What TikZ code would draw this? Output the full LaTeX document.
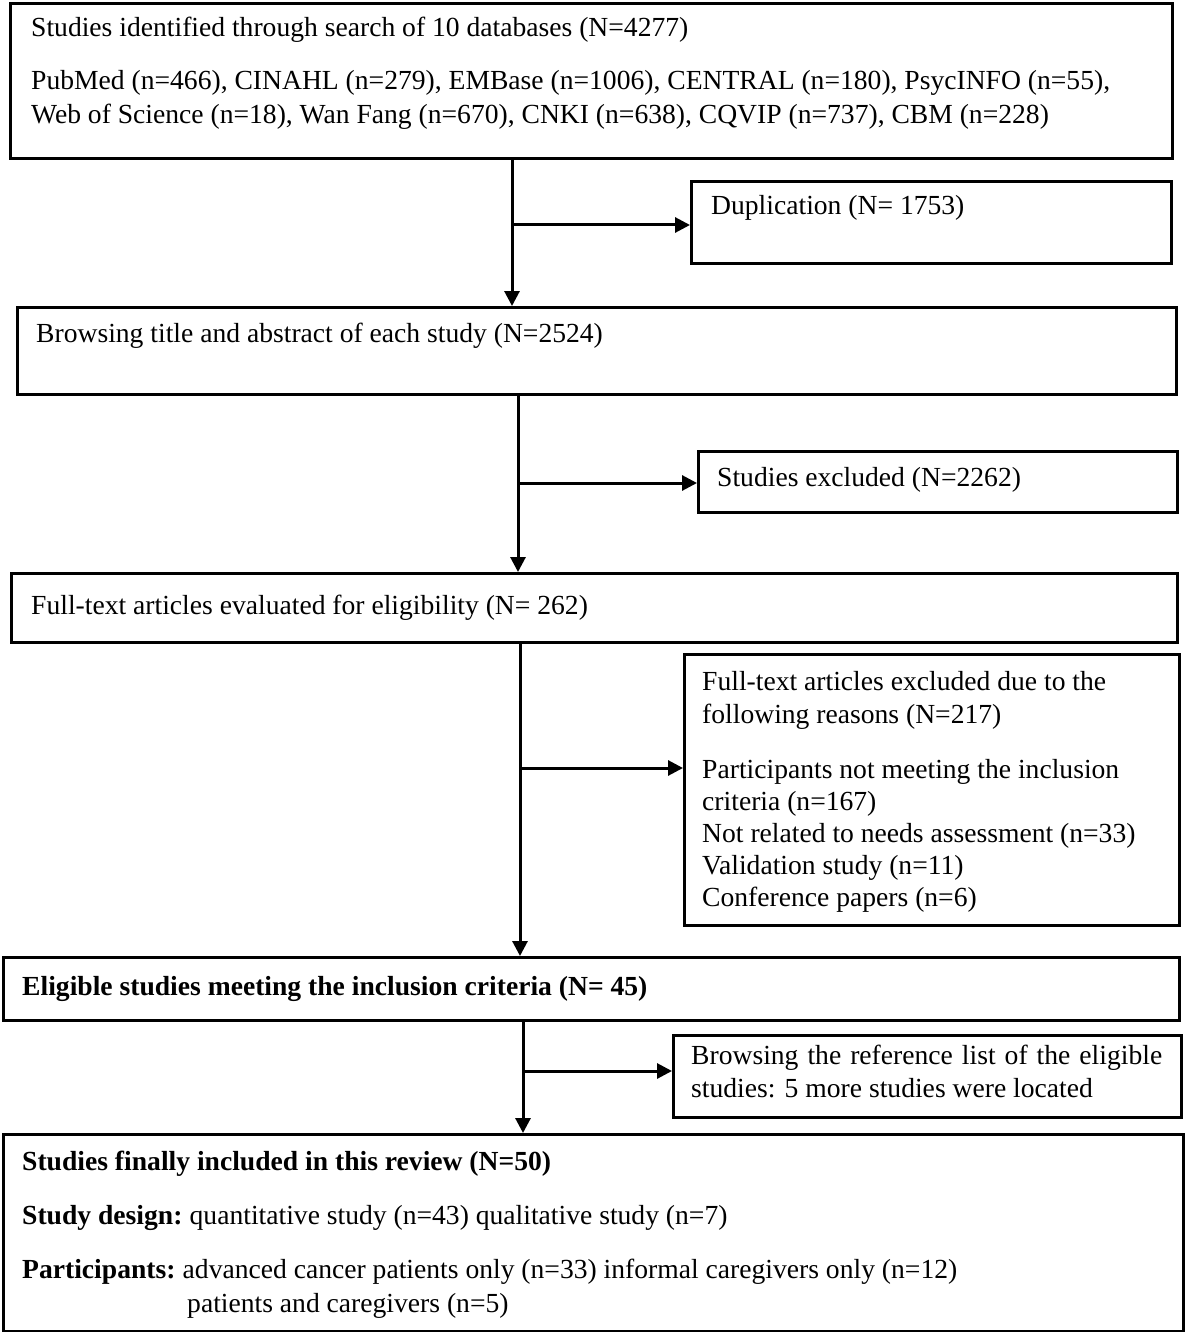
\documentclass[tikz,border=0pt]{standalone}
\usepackage{fontspec}
\setmainfont{Liberation Serif}
\usetikzlibrary{arrows.meta}
\begin{document}
\begin{tikzpicture}[x=1pt,y=-1pt,
 box/.style={draw, line width=3.2pt, inner sep=0pt, anchor=north west},
 txt/.style={anchor=base west, inner sep=0pt, font=\fontsize{27.6}{32}\selectfont},
 arr/.style={line width=3pt, -{Triangle[length=15pt,width=15pt]}}]
\useasboundingbox (0,0) rectangle (1184,1332);
% boxes
\node[box, minimum width=1162pt, minimum height=155pt] (b1) at (9,2) {};
\node[box, minimum width=480pt, minimum height=82pt] (dup) at (690,180) {};
\node[box, minimum width=1159pt, minimum height=87pt] (b3) at (16,306) {};
\node[box, minimum width=479pt, minimum height=61pt] (exc) at (697,450) {};
\node[box, minimum width=1166pt, minimum height=69pt] (b5) at (10,572) {};
\node[box, minimum width=495pt, minimum height=271pt] (b6) at (683,653) {};
\node[box, minimum width=1176pt, minimum height=63pt] (b7) at (2,956) {};
\node[box, minimum width=508pt, minimum height=82pt] (b8) at (672,1034) {};
\node[box, minimum width=1180pt, minimum height=197pt] (b9) at (2,1133) {};
% texts
\node[txt] (t1a) at (31,37) {Studies identified through search of 10 databases (N=4277)};
\node[txt] (t1b) at (31,90) {PubMed (n=466), CINAHL (n=279), EMBase (n=1006), CENTRAL (n=180), PsycINFO (n=55),};
\node[txt] (t1c) at (31,124) {Web of Science (n=18), Wan Fang (n=670), CNKI (n=638), CQVIP (n=737), CBM (n=228)};
\node[txt] (t2) at (711,215) {Duplication (N= 1753)};
\node[txt] (t3) at (36,342) {Browsing title and abstract of each study (N=2524)};
\node[txt] (t4) at (717,486) {Studies excluded (N=2262)};
\node[txt] (t5) at (31,614) {Full-text articles evaluated for eligibility (N= 262)};
\node[txt] (t6a) at (702,690) {Full-text articles excluded due to the};
\node[txt] (t6b) at (702,723) {following reasons (N=217)};
\node[txt] (t6c) at (702,778) {Participants not meeting the inclusion};
\node[txt] (t6d) at (702,810) {criteria (n=167)};
\node[txt] (t6e) at (702,842) {Not related to needs assessment (n=33)};
\node[txt] (t6f) at (702,874) {Validation study (n=11)};
\node[txt] (t6g) at (702,906) {Conference papers (n=6)};
\node[txt] (t7) at (22,995) {\bfseries Eligible studies meeting the inclusion criteria (N= 45)};
\node[txt] (t8a) at (691,1064) {\makebox[471pt][s]{Browsing the reference list of the eligible}};
\node[txt] (t8b) at (691,1097) {studies: 5 more studies were located};
\node[txt] (t9a) at (22,1170) {\bfseries Studies finally included in this review (N=50)};
\node[txt] (t9b) at (22,1224) {\textbf{Study design:}\hspace{-2pt} quantitative study (n=43) qualitative study (n=7)};
\node[txt] (t9c) at (22,1278) {\textbf{Participants:}\hspace{-2pt} advanced cancer patients only (n=33) informal caregivers only (n=12)};
\node[txt] (t9d) at (187,1312) {patients and caregivers (n=5)};
% connectors
\coordinate (c1) at (512,225);
\coordinate (c2) at (518,483);
\coordinate (c3) at (520,768);
\coordinate (c4) at (523,1071);
\draw[arr] (c1 |- b1.south) -- (c1 |- b3.north);
\draw[arr] (c1) -- (c1 -| dup.west);
\draw[arr] (c2 |- b3.south) -- (c2 |- b5.north);
\draw[arr] (c2) -- (c2 -| exc.west);
\draw[arr] (c3 |- b5.south) -- (c3 |- b7.north);
\draw[arr] (c3) -- (c3 -| b6.west);
\draw[arr] (c4 |- b7.south) -- (c4 |- b9.north);
\draw[arr] (c4) -- (c4 -| b8.west);
\end{tikzpicture}
\end{document}
